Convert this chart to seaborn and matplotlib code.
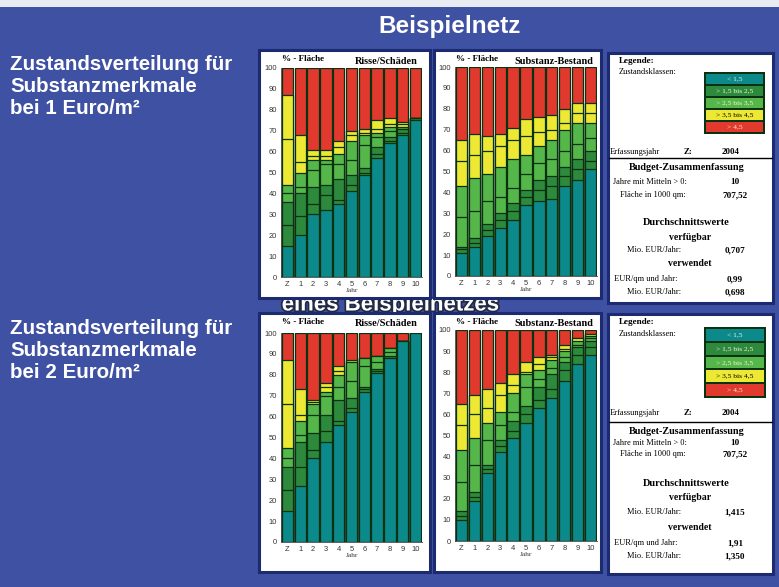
import matplotlib
matplotlib.use("Agg")
import matplotlib.pyplot as plt
import matplotlib.patheffects as pe
from matplotlib.patches import Rectangle
import seaborn as sns
import pandas as pd

# ---------------- data ----------------
years = ["Z", "1", "2", "3", "4", "5", "6", "7", "8", "9", "10"]
total = [100, 100, 100, 100, 100, 100, 100, 100, 100, 100, 100]

# chart 1: 1 Euro/m2, Risse/Schaeden (upper bounds of class blocks, %)
c1_teal_top = [15, 20, 30, 32, 35, 41, 49, 57, 64, 68, 75]
c1_dkg_mid = [25, 29, 35, 39, 37, 44, 50, 59, 65, 69, 75]
c1_dkg_top = [36, 40, 43, 44, 47, 49, 52, 62, 67, 71, 76]
c1_grn_mid = [40, 43, 51, 54, 54, 56, 63, 67, 70, 71, 76]
c1_grn_top = [44, 50, 56, 56, 59, 65, 68, 69, 72, 72, 76]
c1_yel_mid = [66, 55, 58, 58, 62, 68, 69, 71, 73, 73, 76]
c1_yel_top = [87, 68, 61, 61, 65, 70, 71, 75, 76, 74, 76]

# chart 2: 1 Euro/m2, Substanz-Bestand
c2_teal_top = [11, 14, 19, 23, 27, 34, 36, 37, 43, 46, 51]
c2_dkg_mid = [13, 16, 22, 27, 31, 38, 41, 43, 48, 51, 55]
c2_dkg_top = [14, 18, 25, 30, 35, 41, 46, 48, 52, 56, 60]
c2_grn_mid = [28, 31, 36, 38, 42, 49, 54, 56, 60, 63, 66]
c2_grn_top = [43, 47, 49, 52, 56, 58, 62, 65, 70, 73, 73]
c2_yel_mid = [55, 58, 60, 62, 65, 67, 69, 70, 73, 78, 78]
c2_yel_top = [65, 68, 67, 68, 71, 75, 76, 77, 80, 83, 83]

# chart 3: 2 Euro/m2, Risse/Schaeden
c3_teal_top = [15, 27, 40, 48, 56, 62, 72, 81, 88, 96, 100]
c3_dkg_mid = [25, 36, 44, 53, 58, 64, 73, 82, 88, 96, 100]
c3_dkg_top = [36, 48, 52, 61, 68, 69, 74, 83, 89, 96, 100]
c3_grn_mid = [40, 51, 61, 70, 74, 77, 84, 86, 91, 96, 100]
c3_grn_top = [45, 58, 66, 72, 80, 86, 88, 89, 93, 96, 100]
c3_yel_mid = [66, 61, 67, 74, 82, 86, 88, 89, 93, 96, 100]
c3_yel_top = [87, 73, 68, 76, 84, 87, 88, 89, 93, 96, 100]

# chart 4: 2 Euro/m2, Substanz-Bestand
c4_teal_top = [10, 19, 32, 42, 49, 56, 63, 68, 76, 84, 88]
c4_dkg_mid = [12, 21, 34, 45, 52, 60, 67, 72, 81, 88, 92]
c4_dkg_top = [14, 23, 36, 48, 57, 64, 73, 79, 85, 92, 95]
c4_grn_mid = [28, 36, 48, 55, 61, 73, 77, 82, 87, 93, 96]
c4_grn_top = [43, 49, 56, 61, 70, 79, 81, 86, 90, 95, 97]
c4_yel_mid = [55, 60, 63, 69, 74, 80, 84, 87, 91, 96, 98]
c4_yel_top = [65, 69, 72, 75, 79, 85, 87, 88, 93, 96, 98]

class_labels = ["< 1,5", "> 1,5 bis 2,5", "> 2,5 bis 3,5", "> 3,5 bis 4,5", "> 4,5"]

budget1 = ["10", "707,52", "0,707", "0,99", "0,698"]
budget2 = ["10", "707,52", "1,415", "1,91", "1,350"]

# ---------------- style ----------------
BG = "#3f51a3"
NAVY = "#1c2a70"
TEAL = "#0c898b"
DKG = "#2d8a3c"
GRN = "#55b64a"
YEL = "#ece834"
RED = "#e2392e"
EDGE = "#0b3210"
class_colors = [TEAL, DKG, GRN, YEL, RED]
SANS = ["Liberation Sans", "DejaVu Sans"]

W, H = 779, 587
sns.set_theme(style="white")
plt.rcParams["font.family"] = ["Liberation Serif", "DejaVu Serif"]

fig = plt.figure(figsize=(W / 100, H / 100), dpi=100, facecolor=BG)


def fx(x):
    return x / W


def fy(y):
    return 1 - y / H


def rect(x0, y0, x1, y1, **kw):
    r = Rectangle((fx(x0), fy(y1)), (x1 - x0) / W, (y1 - y0) / H,
                  transform=fig.transFigure, **kw)
    fig.patches.append(r)
    return r


def text(x, y, s, **kw):
    kw.setdefault("color", "black")
    return fig.text(fx(x), fy(y), s, **kw)


# light strip on top
rect(0, 0, W, 7, facecolor="#e9ebf2", edgecolor="none", zorder=-5)

# title and left captions
text(450, 27, "Beispielnetz", ha="center", va="center", color="white",
     fontsize=17.5, fontweight="bold", family=SANS)
for base, euro in [(65, "1"), (328, "2")]:
    for i, line in enumerate(["Zustandsverteilung für", "Substanzmerkmale",
                              f"bei {euro} Euro/m²"]):
        text(10, base + i * 22, line, ha="left", va="center", color="white",
             fontsize=14.8, fontweight="bold", family=SANS)

# ghost text behind the chart panels
text(390, 305, "eines Beispielnetzes", ha="center", va="center", color="white",
     fontsize=16, fontweight="bold", family=SANS, zorder=-4,
     path_effects=[pe.withStroke(linewidth=2.5, foreground="#222a44")])


def chart(px0, py0, px1, py1, panel, title, layers):
    rect(*panel, facecolor="white", edgecolor=NAVY, linewidth=2.2, zorder=-2)
    ax = fig.add_axes([fx(px0), fy(py1), (px1 - px0) / W, (py1 - py0) / H])
    ax.set_facecolor("white")
    for vals, col in layers:
        df = pd.DataFrame({"Jahr": years, "Wert": vals})
        sns.barplot(data=df, x="Jahr", y="Wert", order=years, color=col,
                    saturation=1, width=0.88, edgecolor=EDGE, linewidth=0.9,
                    errorbar=None, ax=ax)
    ax.set_ylim(0, 100)
    ax.set_xlim(-0.5, 10.5)
    ax.set_yticks(range(0, 101, 10))
    ax.tick_params(axis="both", labelsize=5.4, length=1.5, width=0.5, pad=1.5,
                   colors="#333333")
    for lab in ax.get_xticklabels() + ax.get_yticklabels():
        lab.set_family(SANS)
    ax.set_ylabel("")
    ax.set_xlabel("Jahr", fontsize=5.2, labelpad=0.0, color="#333333")
    for s in ["top", "right"]:
        ax.spines[s].set_visible(False)
    for s in ["left", "bottom"]:
        ax.spines[s].set_color("#444444")
        ax.spines[s].set_linewidth(0.6)
    text(px0 + 1, panel[1] + 9, "% - Fläche", fontsize=6.6, fontweight="bold",
         ha="left", va="center")
    text(px1 - 4, panel[1] + 11, title, fontsize=7.4, fontweight="bold",
         ha="right", va="center")
    return ax


def layers_of(teal, dkm, dkt, gm, gt, ym, yt):
    return [(total, RED), (yt, YEL), (ym, YEL), (gt, GRN), (gm, GRN),
            (dkt, DKG), (dkm, DKG), (teal, TEAL)]


chart(281, 68, 422, 277, (259, 50, 430, 298), "Risse/Schäden",
      layers_of(c1_teal_top, c1_dkg_mid, c1_dkg_top, c1_grn_mid, c1_grn_top,
                c1_yel_mid, c1_yel_top))
chart(455, 67, 597, 276, (434, 50, 601, 298), "Substanz-Bestand",
      layers_of(c2_teal_top, c2_dkg_mid, c2_dkg_top, c2_grn_mid, c2_grn_top,
                c2_yel_mid, c2_yel_top))
chart(281, 333, 422, 542, (259, 313, 430, 572), "Risse/Schäden",
      layers_of(c3_teal_top, c3_dkg_mid, c3_dkg_top, c3_grn_mid, c3_grn_top,
                c3_yel_mid, c3_yel_top))
chart(455, 330, 597, 541, (434, 313, 601, 572), "Substanz-Bestand",
      layers_of(c4_teal_top, c4_dkg_mid, c4_dkg_top, c4_grn_mid, c4_grn_top,
                c4_yel_mid, c4_yel_top))


def legend_panel(y0, y1, box, ys, budget):
    rect(608, y0, 773, y1, facecolor="white", edgecolor=NAVY, linewidth=2.2,
         zorder=-2)
    bx0, by0, bx1, by1 = box
    rect(bx0 - 1, by0 - 1, bx1 + 1, by1 + 1, facecolor=EDGE, edgecolor="none",
         zorder=-1)
    rh = (by1 - by0) / 5
    for i, (lab, col) in enumerate(zip(class_labels, class_colors)):
        rect(bx0 + 1, by0 + i * rh + 1, bx1 - 1, by0 + (i + 1) * rh - 1,
             facecolor=col, edgecolor="none", zorder=-0.5)
        text((bx0 + bx1) / 2, by0 + (i + 0.5) * rh, lab, ha="center",
             va="center", fontsize=5.4,
             color="black" if col == YEL else "#f4f4d8")
    (y_leg, y_zk, y_erf, y_div, y_bud, y_jahre, y_fl, y_dw, y_vf, y_mio1,
     y_vw, y_eur, y_mio2) = ys
    text(619, y_leg, "Legende:", fontsize=6.6, fontweight="bold", va="center")
    text(619, y_zk, "Zustandsklassen:", fontsize=6.0, va="center")
    text(610, y_erf, "Erfassungsjahr", fontsize=6.0, va="center")
    text(684, y_erf, "Z:", fontsize=6.4, fontweight="bold", va="center")
    text(731, y_erf, "2004", fontsize=6.4, fontweight="bold", va="center",
         ha="center")
    fig.add_artist(plt.Line2D([fx(609), fx(772)], [fy(y_div), fy(y_div)],
                              transform=fig.transFigure, color="black",
                              linewidth=1.0))
    text(687, y_bud, "Budget-Zusammenfassung", fontsize=7.3,
         fontweight="bold", ha="center", va="center")
    text(687, y_jahre, "Jahre mit Mitteln > 0:", fontsize=6.0, ha="right",
         va="center")
    text(735, y_jahre, budget[0], fontsize=6.6, fontweight="bold",
         ha="center", va="center")
    text(686, y_fl, "Fläche in 1000 qm:", fontsize=6.0, ha="right",
         va="center")
    text(735, y_fl, budget[1], fontsize=6.6, fontweight="bold", ha="center",
         va="center")
    text(686, y_dw, "Durchschnittswerte", fontsize=7.5, fontweight="bold",
         ha="center", va="center")
    text(690, y_vf, "verfügbar", fontsize=7.0, fontweight="bold",
         ha="center", va="center")
    text(681, y_mio1, "Mio. EUR/Jahr:", fontsize=6.0, ha="right", va="center")
    text(735, y_mio1, budget[2], fontsize=6.6, fontweight="bold",
         ha="center", va="center")
    text(690, y_vw, "verwendet", fontsize=7.0, fontweight="bold",
         ha="center", va="center")
    text(678, y_eur, "EUR/qm und Jahr:", fontsize=6.0, ha="right",
         va="center")
    text(735, y_eur, budget[3], fontsize=6.6, fontweight="bold",
         ha="center", va="center")
    text(681, y_mio2, "Mio. EUR/Jahr:", fontsize=6.0, ha="right", va="center")
    text(735, y_mio2, budget[4], fontsize=6.6, fontweight="bold",
         ha="center", va="center")


legend_panel(53, 303, (705, 73, 764, 133),
             (61, 72, 152, 158, 167, 182, 195, 222, 237, 250, 263, 279, 292),
             budget1)
legend_panel(314, 574, (705, 328, 765, 397),
             (322, 334, 413, 422, 431, 443, 454, 483, 498, 512, 527, 543, 556),
             budget2)

fig.savefig("out.png", dpi=100, facecolor=BG)
